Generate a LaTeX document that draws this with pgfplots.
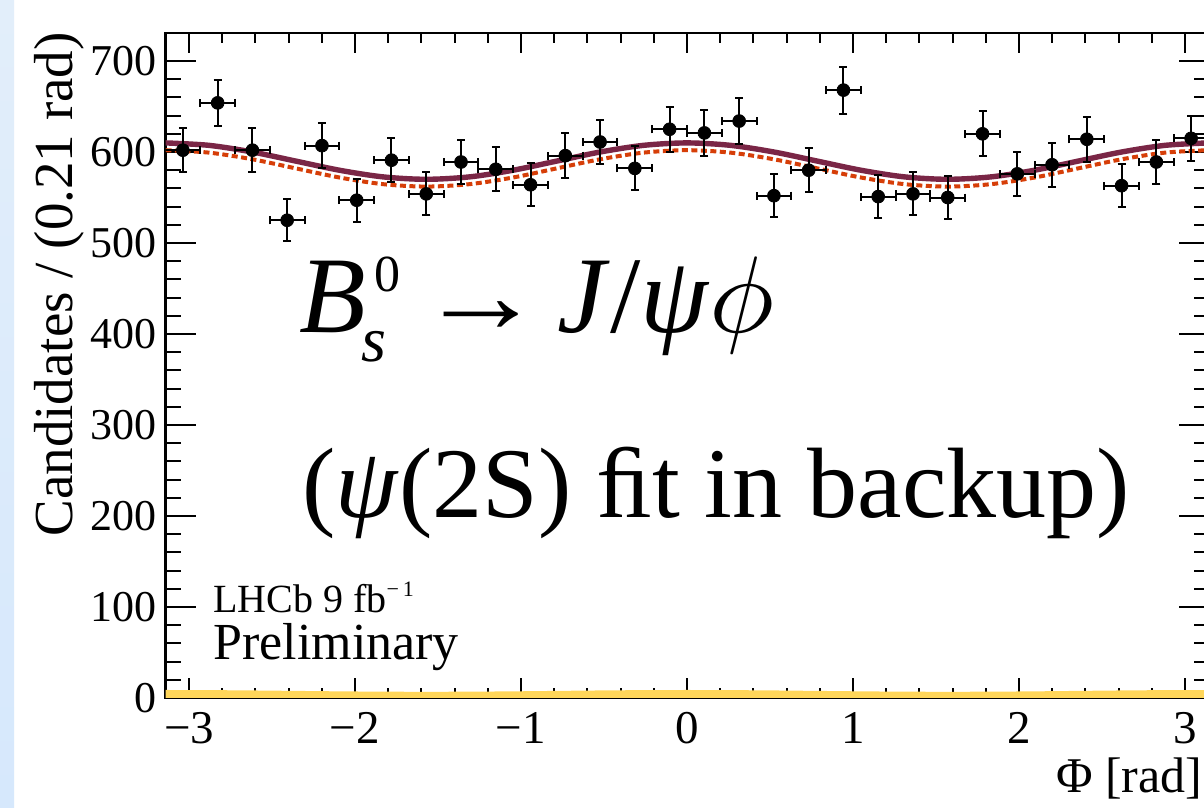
\documentclass[border=0pt]{standalone}
\usepackage{fontspec}
\setmainfont{Liberation Serif}
\usepackage{pgfplots}
\pgfplotsset{compat=1.18}
\definecolor{totc}{RGB}{122,38,70}
\definecolor{sigc}{RGB}{214,62,8}
\definecolor{bgc}{RGB}{255,214,90}
\definecolor{slidetop}{RGB}{226,238,250}
\definecolor{slidebot}{RGB}{214,232,252}
\pgfplotstableread{
x y ex ey
-3.0369 602 0.1047 24.5
-2.8274 654 0.1047 25.6
-2.6180 602 0.1047 24.5
-2.4086 525 0.1047 22.9
-2.1991 607 0.1047 24.6
-1.9897 547 0.1047 23.4
-1.7802 591 0.1047 24.3
-1.5708 554 0.1047 23.5
-1.3614 589 0.1047 24.3
-1.1519 581 0.1047 24.1
-0.9425 564 0.1047 23.7
-0.7330 596 0.1047 24.4
-0.5236 611 0.1047 24.7
-0.3142 582 0.1047 24.1
-0.1047 625 0.1047 25.0
0.1047 621 0.1047 24.9
0.3142 634 0.1047 25.2
0.5236 552 0.1047 23.5
0.7330 580 0.1047 24.1
0.9425 668 0.1047 25.8
1.1519 551 0.1047 23.5
1.3614 554 0.1047 23.5
1.5708 550 0.1047 23.5
1.7802 620 0.1047 24.9
1.9897 576 0.1047 24.0
2.1991 586 0.1047 24.2
2.4086 614 0.1047 24.8
2.6180 563 0.1047 23.7
2.8274 589 0.1047 24.3
3.0369 615 0.1047 24.8
}\datatable
\begin{document}
\begin{tikzpicture}
\fill[white] (0pt,0pt) rectangle (602pt,404pt);
\shade[top color=slidetop, bottom color=slidebot] (0pt,0pt) rectangle (7pt,404pt);
\begin{axis}[
  at={(82.75pt,55pt)}, anchor=south west, scale only axis,
  width=521.5pt, height=332.5pt,
  xmin=-3.14159, xmax=3.14159, ymin=0, ymax=730.8,
  xtick={-3,-2,-1,0,1,2,3}, xticklabels={−3,−2,−1,0,1,2,3}, minor x tick num=4,
  ytick={0,100,200,300,400,500,600,700}, minor y tick num=4,
  tick align=inside,
  xtick style={/pgfplots/major tick length=10pt,/pgfplots/minor tick length=5pt, line width=1pt, black},
  ytick style={/pgfplots/major tick length=15pt,/pgfplots/minor tick length=7.5pt, line width=1pt, black},
  axis line style={line width=1.3pt},
  /pgf/number format/assume math mode=true,
  xticklabel style={font=\fontsize{23.5}{26}\selectfont, inner sep=0pt, yshift=-7pt},
  yticklabel style={font=\fontsize{22}{26}\selectfont, inner sep=0pt, xshift=-4.25pt},
  xlabel={Φ [rad]},
  xlabel style={at={(axis description cs:0.9946,-0.1414)}, anchor=base east, inner sep=0pt, font=\fontsize{25}{30}\selectfont},
  ylabel={Candidates / (0.21 rad)},
  ylabel style={at={(axis description cs:-0.0896,1.0015)}, rotate=0, anchor=base east, inner sep=0pt, font=\fontsize{27.5}{32}\selectfont},
]
\addplot[draw=none, fill=bgc] coordinates {
(-3.14159,8.8) (-2.87979,8.67) (-2.61799,8.3) (-2.35619,7.8) (-2.09440,7.3) (-1.83260,6.93) (-1.57080,6.8) (-1.30900,6.93) (-1.04720,7.3) (-0.78540,7.8) (-0.52360,8.3) (-0.26180,8.67) (0,8.8) (0.26180,8.67) (0.52360,8.3) (0.78540,7.8) (1.04720,7.3) (1.30900,6.93) (1.57080,6.8) (1.83260,6.93) (2.09440,7.3) (2.35619,7.8) (2.61799,8.3) (2.87979,8.67) (3.14159,8.8)
} \closedcycle;
\addplot[sigc, line width=2pt, dash pattern=on 3pt off 1.75pt, smooth] coordinates {
(-3.14159,602) (-2.87979,599.32) (-2.61799,592) (-2.35619,582) (-2.09440,572) (-1.83260,564.68) (-1.57080,562) (-1.30900,564.68) (-1.04720,572) (-0.78540,582) (-0.52360,592) (-0.26180,599.32) (0,602) (0.26180,599.32) (0.52360,592) (0.78540,582) (1.04720,572) (1.30900,564.68) (1.57080,562) (1.83260,564.68) (2.09440,572) (2.35619,582) (2.61799,592) (2.87979,599.32) (3.14159,602)
};
\addplot[totc, line width=2.7pt, smooth] coordinates {
(-3.14159,610) (-2.87979,607.32) (-2.61799,600) (-2.35619,590) (-2.09440,580) (-1.83260,572.68) (-1.57080,570) (-1.30900,572.68) (-1.04720,580) (-0.78540,590) (-0.52360,600) (-0.26180,607.32) (0,610) (0.26180,607.32) (0.52360,600) (0.78540,590) (1.04720,580) (1.30900,572.68) (1.57080,570) (1.83260,572.68) (2.09440,580) (2.35619,590) (2.61799,600) (2.87979,607.32) (3.14159,610)
};
\addplot[black, only marks, mark=*, mark size=3.2pt,
  error bars/.cd, x dir=both, x explicit, y dir=both, y explicit,
  error bar style={line width=1pt, black},
  error mark=-,
  error mark options={rotate=90, black, mark size=2pt, line width=1pt}]
  table[x=x, y=y, x error=ex, y error=ey] {\datatable};
\end{axis}
\node[anchor=base west, inner sep=0pt] at (149pt,237.5pt) {\fontsize{54.5}{60}\selectfont\rlap{\textit{B}}\rlap{\hspace{37.5pt}\raisebox{20.5pt}{\fontsize{26}{30}\selectfont 0}}\rlap{\hspace{31pt}\raisebox{-14.5pt}{\fontsize{32}{36}\selectfont\textit{s}}}};
\node[anchor=base west, inner sep=0pt] at (209pt,237.5pt) {\fontsize{54.5}{60}\selectfont\scalebox{1.15}[1]{→}};
\node[anchor=base west, inner sep=0pt] at (278.5pt,237.5pt) {\fontsize{54.5}{60}\selectfont\textit{J}/\textit{ψ}{\fontsize{10}{12}\selectfont\scalebox{5.45}{$\phi$}}};
\node[anchor=base west, inner sep=0pt] at (151pt,145pt) {\fontsize{50}{56}\selectfont (\textit{ψ}(2S) ﬁt in backup)};
\node[anchor=base west, inner sep=0pt] at (106.5pt,97.5pt) {\fontsize{20}{24}\selectfont LHCb 9 fb\raisebox{8pt}{\fontsize{11}{13}\selectfont −\,1}};
\node[anchor=base west, inner sep=0pt] at (106.5pt,74pt) {\fontsize{26}{30}\selectfont Preliminary};
\pgfresetboundingbox
\useasboundingbox (0pt,0pt) rectangle (602pt,404pt);
\end{tikzpicture}
\end{document}
